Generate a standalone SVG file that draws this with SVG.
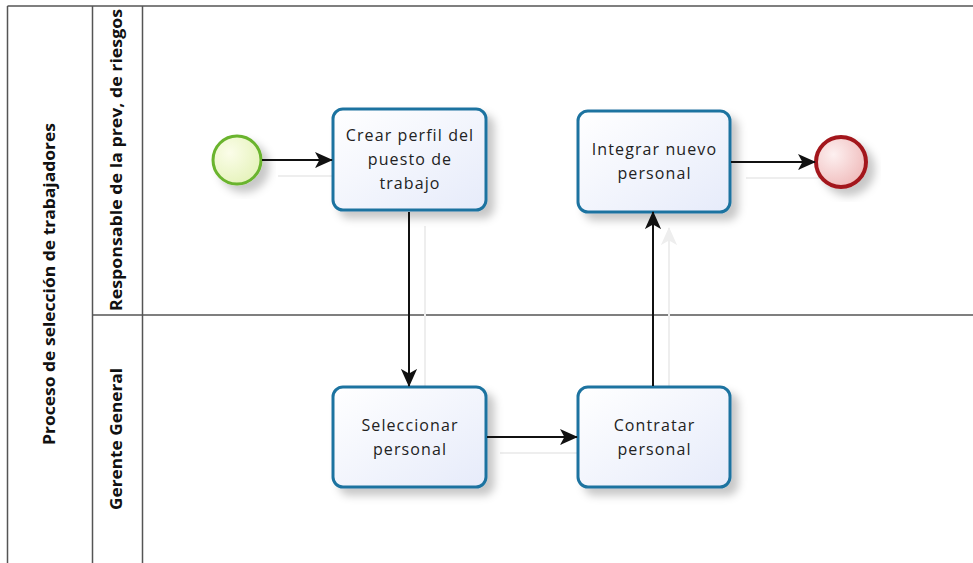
<svg xmlns="http://www.w3.org/2000/svg" width="973" height="563" viewBox="0 0 973 563">
  <style>
    .pool { fill: none; stroke: #555; stroke-width: 1.5; }
    .hdr { font-family: "Open Sans", "DejaVu Sans", sans-serif; font-weight: bold; font-size: 16px; fill: #111; text-anchor: middle; }
    .task rect { fill: url(#taskFill); stroke: #1e73a0; stroke-width: 3; }
    .lbl { font-family: "Open Sans", "DejaVu Sans", sans-serif; font-size: 16px; letter-spacing: 1.1px; fill: #222; text-anchor: middle; }
    .flow { fill: none; stroke: #111; stroke-width: 2; }
    .ghost { fill: none; stroke: #eeeeee; stroke-width: 2; }
  </style>
  <defs>
    <linearGradient id="taskFill" x1="0" y1="0" x2="1" y2="1">
      <stop offset="0" stop-color="#ffffff"/>
      <stop offset="1" stop-color="#e6ebfa"/>
    </linearGradient>
    <radialGradient id="startFill" cx="0.35" cy="0.35" r="0.75">
      <stop offset="0" stop-color="#fbfde9"/>
      <stop offset="1" stop-color="#e4f2b8"/>
    </radialGradient>
    <radialGradient id="endFill" cx="0.35" cy="0.35" r="0.75">
      <stop offset="0" stop-color="#fdf0f0"/>
      <stop offset="1" stop-color="#efb8b8"/>
    </radialGradient>
    <filter id="shadow" x="-20%" y="-20%" width="150%" height="150%">
      <feDropShadow dx="7" dy="7" stdDeviation="4" flood-color="#000" flood-opacity="0.22"/>
    </filter>
    <marker id="arrow" viewBox="0 0 20 20" refX="19" refY="10" markerWidth="18" markerHeight="18" markerUnits="userSpaceOnUse" orient="auto">
      <path d="M0,1 L20,10 L0,19 L5,10 Z" fill="#111"/>
    </marker>
    <marker id="ghostArrow" viewBox="0 0 20 20" refX="19" refY="10" markerWidth="18" markerHeight="18" markerUnits="userSpaceOnUse" orient="auto">
      <path d="M0,1 L20,10 L0,19 L5,10 Z" fill="#eeeeee"/>
    </marker>
  </defs>

  <rect width="973" height="563" fill="#ffffff"/>

  <g id="pool">
    <line class="pool" x1="7.5" y1="6" x2="973" y2="6"/>
    <line class="pool" x1="7.5" y1="6" x2="7.5" y2="563"/>
    <line class="pool" x1="92.5" y1="6" x2="92.5" y2="563"/>
    <line class="pool" x1="142.5" y1="6" x2="142.5" y2="563"/>
    <line class="pool" x1="92.5" y1="315" x2="973" y2="315"/>
    <text class="hdr" transform="translate(55,284) rotate(-90)" textLength="322" lengthAdjust="spacingAndGlyphs">Proceso de selección de trabajadores</text>
  </g>
  <g id="lane-responsable">
    <text class="hdr" transform="translate(122,160) rotate(-90)" textLength="302" lengthAdjust="spacingAndGlyphs">Responsable de la prev, de riesgos</text>
  </g>
  <g id="lane-gerente">
    <text class="hdr" transform="translate(122,439) rotate(-90)" textLength="142" lengthAdjust="spacingAndGlyphs">Gerente General</text>
  </g>

  <g id="connector-shadows">
    <line class="ghost" x1="278" y1="176" x2="345" y2="176"/>
    <line class="ghost" x1="425" y1="226" x2="425" y2="400"/>
    <line class="ghost" x1="500" y1="453" x2="590" y2="453"/>
    <line class="ghost" x1="669" y1="400" x2="669" y2="228" marker-end="url(#ghostArrow)"/>
    <line class="ghost" x1="746" y1="178" x2="829" y2="178"/>
  </g>

  <g id="start" filter="url(#shadow)">
    <circle cx="237" cy="160" r="24" fill="url(#startFill)" stroke="#6ab42d" stroke-width="3"/>
  </g>

  <g id="task-crear" class="task" filter="url(#shadow)">
    <rect x="333" y="109" width="153" height="101" rx="10" ry="10"/>
  </g>
  <g id="task-crear-label">
    <text class="lbl" x="410" y="141">Crear perfil del</text>
    <text class="lbl" x="410" y="165">puesto de</text>
    <text class="lbl" x="410" y="189">trabajo</text>
  </g>

  <g id="task-integrar" class="task" filter="url(#shadow)">
    <rect x="578" y="111" width="152" height="101" rx="10" ry="10"/>
  </g>
  <g id="task-integrar-label">
    <text class="lbl" x="654.5" y="155">Integrar nuevo</text>
    <text class="lbl" x="654.5" y="179">personal</text>
  </g>

  <g id="end" filter="url(#shadow)">
    <circle cx="841" cy="162" r="25" fill="url(#endFill)" stroke="#a3191c" stroke-width="4"/>
  </g>

  <g id="task-seleccionar" class="task" filter="url(#shadow)">
    <rect x="333" y="387" width="153" height="100" rx="10" ry="10"/>
  </g>
  <g id="task-seleccionar-label">
    <text class="lbl" x="410" y="431">Seleccionar</text>
    <text class="lbl" x="410" y="455">personal</text>
  </g>

  <g id="task-contratar" class="task" filter="url(#shadow)">
    <rect x="578" y="387" width="152" height="100" rx="10" ry="10"/>
  </g>
  <g id="task-contratar-label">
    <text class="lbl" x="654.5" y="431">Contratar</text>
    <text class="lbl" x="654.5" y="455">personal</text>
  </g>

  <g id="connectors">
    <line class="flow" x1="262" y1="160" x2="332" y2="160" marker-end="url(#arrow)"/>
    <line class="flow" x1="409" y1="212" x2="409" y2="386" marker-end="url(#arrow)"/>
    <line class="flow" x1="487" y1="437" x2="577" y2="437" marker-end="url(#arrow)"/>
    <line class="flow" x1="653" y1="386" x2="653" y2="212" marker-end="url(#arrow)"/>
    <line class="flow" x1="731" y1="162" x2="815" y2="162" marker-end="url(#arrow)"/>
  </g>
</svg>
